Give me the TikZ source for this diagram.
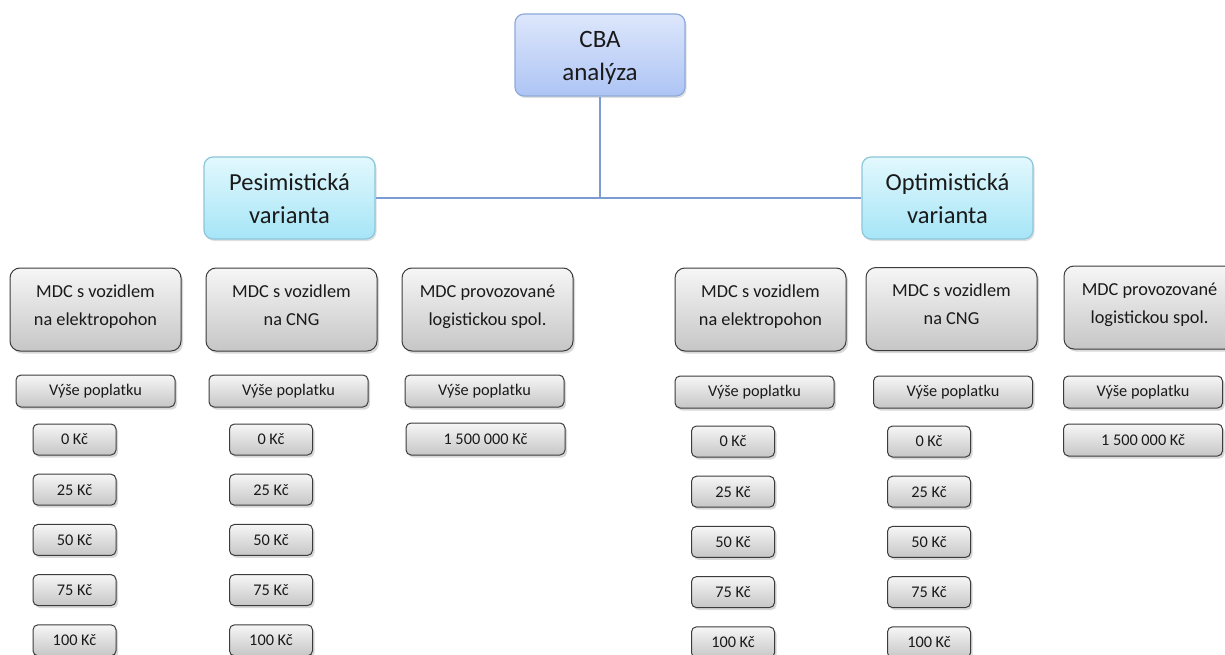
\documentclass[tikz,border=0pt]{standalone}
\usepackage{fontspec}
\setmainfont{Carlito}
\usetikzlibrary{shadows}
\definecolor{blueTop}{HTML}{DDE7FC}
\definecolor{blueBot}{HTML}{ADC4F4}
\definecolor{blueBorder}{HTML}{8EAADB}
\definecolor{cyanTop}{HTML}{E2F8FD}
\definecolor{cyanBot}{HTML}{A6E5F7}
\definecolor{cyanBorder}{HTML}{8DC6DA}
\definecolor{lineBlue}{HTML}{7B9BD3}
\definecolor{greyTop}{HTML}{F6F6F6}
\definecolor{greyBot}{HTML}{C6C6C6}
\definecolor{greyBorder}{HTML}{3C3C3C}
\definecolor{txt}{HTML}{1A1A1A}
\newcommand\twoline[3]{\raisebox{#3}[\height][\depth]{\begin{tabular}{@{}c@{}}#1\\#2\end{tabular}}}
\tikzset{
  topbox/.style={draw=blueBorder, line width=1.2pt, rounded corners=9pt, top color=blueTop, bottom color=blueBot,
    minimum width=170pt, minimum height=82pt, inner sep=0pt, text=txt,
    font=\fontsize{25}{33}\selectfont,
    drop shadow={shadow xshift=1.5pt, shadow yshift=-2pt, opacity=0.25}},
  varbox/.style={draw=cyanBorder, line width=1.2pt, rounded corners=9pt, top color=cyanTop, bottom color=cyanBot,
    minimum width=171pt, minimum height=82pt, inner sep=0pt, text=txt,
    font=\fontsize{24.5}{33}\selectfont,
    drop shadow={shadow xshift=1.5pt, shadow yshift=-2pt, opacity=0.25}},
  mdcbox/.style={draw=greyBorder, line width=1pt, rounded corners=10pt, top color=greyTop, bottom color=greyBot,
    minimum width=171pt, minimum height=83pt, inner sep=0pt, text=txt,
    font=\fontsize{18.3}{28}\selectfont,
    drop shadow={shadow xshift=2pt, shadow yshift=-2.5pt, opacity=0.3}},
  feebox/.style={draw=greyBorder, line width=1pt, rounded corners=5pt, top color=greyTop, bottom color=greyBot,
    minimum width=159pt, minimum height=32pt, inner sep=0pt, align=center, text=txt,
    font=\fontsize{16.3}{18}\selectfont,
    drop shadow={shadow xshift=2pt, shadow yshift=-2.5pt, opacity=0.3}},
  valbox/.style={feebox, minimum width=83pt, minimum height=31pt},
  link/.style={draw=lineBlue, line width=1.6pt},
}
\begin{document}
\begin{tikzpicture}[x=1pt, y=-1pt]
\useasboundingbox (0,0) rectangle (1225,655);
\clip (0,0) rectangle (1225,655);
\fill[white] (0,0) rectangle (1225,655);

% top level
\node[topbox] (cba) at (600,55) {\twoline{CBA}{analýza}{-2pt}};
\node[varbox] (pes) at (289.5,198) {\twoline{Pesimistická}{varianta}{-2pt}};
\node[varbox] (opt) at (947.5,198) {\twoline{Optimistická}{varianta}{-2pt}};
\coordinate (junc) at (cba.south |- pes.east);
\draw[link] (cba.south) -- (junc);
\draw[link] (pes.east) -- (opt.west);

% MDC boxes
\node[mdcbox] (m1) at (95.5,309.5) {\twoline{MDC s vozidlem}{na elektropohon}{4pt}};
\node[mdcbox] (m2) at (291.5,309.5) {\twoline{MDC s vozidlem}{na CNG}{4pt}};
\node[mdcbox] (m3) at (487.5,309.5) {\twoline{MDC provozované}{logistickou spol.}{4pt}};
\node[mdcbox] (m4) at (760.5,309.5) {\twoline{MDC s vozidlem}{na elektropohon}{4pt}};
\node[mdcbox] (m5) at (951.5,309) {\twoline{MDC s vozidlem}{na CNG}{4pt}};
\node[mdcbox] (m6) at (1149.5,307.5) {\twoline{MDC provozované}{logistickou spol.}{4pt}};

% fee header boxes
\node[feebox] (f1) at (95.5,391) {Výše poplatku};
\node[feebox] (f2) at (288.5,391) {Výše poplatku};
\node[feebox] (f3) at (484.5,391) {Výše poplatku};
\node[feebox] (f4) at (754.5,392) {Výše poplatku};
\node[feebox] (f5) at (953,392) {Výše poplatku};
\node[feebox] (f6) at (1143,392) {Výše poplatku};

% fixed fee boxes
\node[feebox] (g3) at (485.5,439) {1 500 000 Kč};
\node[feebox] (g6) at (1143,440) {1 500 000 Kč};

% value columns
\foreach \v [count=\i] in {0,25,50,75,100}{
  \pgfmathsetmacro{\yl}{439.5+50.2*(\i-1)}
  \pgfmathsetmacro{\yr}{441.5+50.2*(\i-1)}
  \node[valbox] (a\i) at (74.5,\yl) {\v\ Kč};
  \node[valbox] (b\i) at (271,\yl) {\v\ Kč};
  \node[valbox] (c\i) at (733,\yr) {\v\ Kč};
  \node[valbox] (d\i) at (929,\yr) {\v\ Kč};
}
\end{tikzpicture}
\end{document}
